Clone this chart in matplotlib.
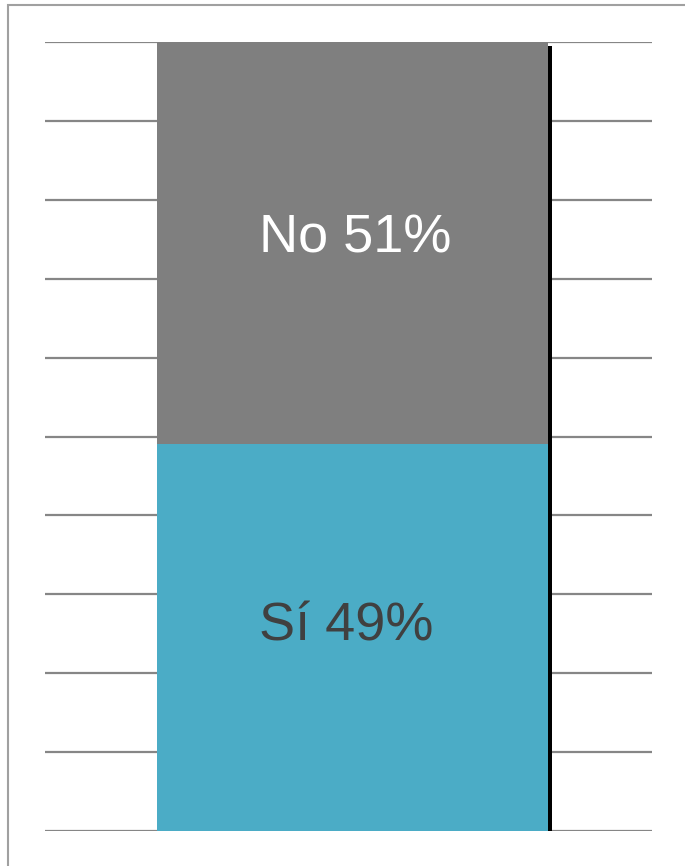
import numpy as np
import matplotlib
matplotlib.use('Agg')
import matplotlib.pyplot as plt
import matplotlib.transforms as mtransforms
from matplotlib.patches import Rectangle

plt.rcParams['font.family'] = ['Liberation Sans', 'DejaVu Sans']

categories = ['Sí', 'No']
values = [49, 51]
colors = ['#4BACC6', '#7F7F7F']
text_colors = ['#404040', '#FFFFFF']
gridticks = np.arange(0, 101, 10)

fig = plt.figure(figsize=(6.85, 8.66), dpi=100)
ax = fig.add_axes([45/685, 1 - 831/866, 607/685, 789/866])

# frame around the chart area
fig.patches.append(Rectangle((8/685, -0.05), 1.2, 1.05 - 5/866, transform=fig.transFigure,
                             fill=False, edgecolor='#A0A0A0', linewidth=1.5))

bw = 0.644
total = sum(values)
# shadow on the right side
shadow = mtransforms.ScaledTranslation(4/100, -4/100, fig.dpi_scale_trans)
ax.bar(0, total, width=bw, color='black', transform=ax.transData + shadow, zorder=2)

# label nudges (px) to match the original placement
nudges = [(-6, 6), (3, 0)]

bottom = 0
for cat, v, c, tc, (dx, dy) in zip(categories, values, colors, text_colors, nudges):
    ax.bar(0, v, bottom=bottom, width=bw, color=c, zorder=3)
    tr = ax.transData + mtransforms.ScaledTranslation(dx/100, dy/100, fig.dpi_scale_trans)
    ax.text(0, bottom + v/2 + 0.6, f'{cat} {v}%', ha='center', va='center',
            fontsize=39, color=tc, zorder=4, transform=tr)
    bottom += v

ax.set_xlim(-0.5065, 0.4933)
ax.set_ylim(0, 100)
for g in gridticks:
    ax.axhline(g, color='#868686', linewidth=1.6, zorder=1)
ax.set_xticks([])
ax.set_yticks([])
for s in ax.spines.values():
    s.set_visible(False)

fig.savefig('out.png', dpi=100)
